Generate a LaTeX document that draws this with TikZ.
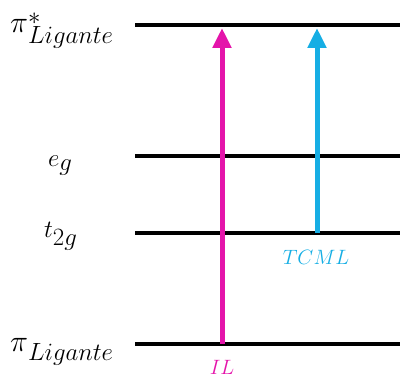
\documentclass[tikz,border=0pt]{standalone}
\usetikzlibrary{arrows.meta}
\DeclareMathSizes{36}{36}{25}{18}
\DeclareMathSizes{22}{22}{16}{12}
\definecolor{magil}{RGB}{228,20,170}
\definecolor{cyml}{RGB}{22,174,228}
\newcommand{\bigpi}{\scalebox{1.22}{$\pi$}}
\begin{document}
\begin{tikzpicture}[x=1pt,y=-1pt,
  level/.style={line width=4pt,black},
  lbl/.style={font=\fontsize{36}{40}\selectfont,inner sep=0pt,anchor=base west},
  trans/.style={line width=5pt,-{Triangle[width=18pt,length=20pt]}},
  tlbl/.style={font=\fontsize{22}{26}\selectfont,inner sep=0pt,anchor=base}]
\useasboundingbox (0,0) rectangle (400,374);
% level endpoints
\coordinate (pisL) at (135,25);  \coordinate (pisR) at (400,25);
\coordinate (egL) at (135,156);  \coordinate (egR) at (400,156);
\coordinate (tL) at (135,233);   \coordinate (tR) at (400,233);
\coordinate (piL) at (135,344);  \coordinate (piR) at (400,344);
\draw[level] (pisL) -- (pisR);
\draw[level] (egL) -- (egR);
\draw[level] (tL) -- (tR);
\draw[level] (piL) -- (piR);
% labels
\node[lbl] (lpis) at (10,33) {$\bigpi^{\raisebox{-8pt}{$*$}}_{Ligante}$};
\node[lbl] (leg) at (48,167) {$e_g$};
\node[lbl] (lt) at (44,238) {$t_{2g}$};
\node[lbl] (lpi) at (10,352) {$\bigpi_{Ligante}$};
% transitions
\coordinate (ilS) at (222,344); \coordinate (ilE) at (222,28);
\coordinate (mlS) at (317,233); \coordinate (mlE) at (317,28);
\draw[trans,magil] (ilS) -- (ilE);
\draw[trans,cyml] (mlS) -- (mlE);
\node[tlbl,text=cyml] (tcml) at (316,265) {$TCML$};
\node[tlbl,text=magil] (il) at (222,375) {$IL$};
\end{tikzpicture}
\end{document}
